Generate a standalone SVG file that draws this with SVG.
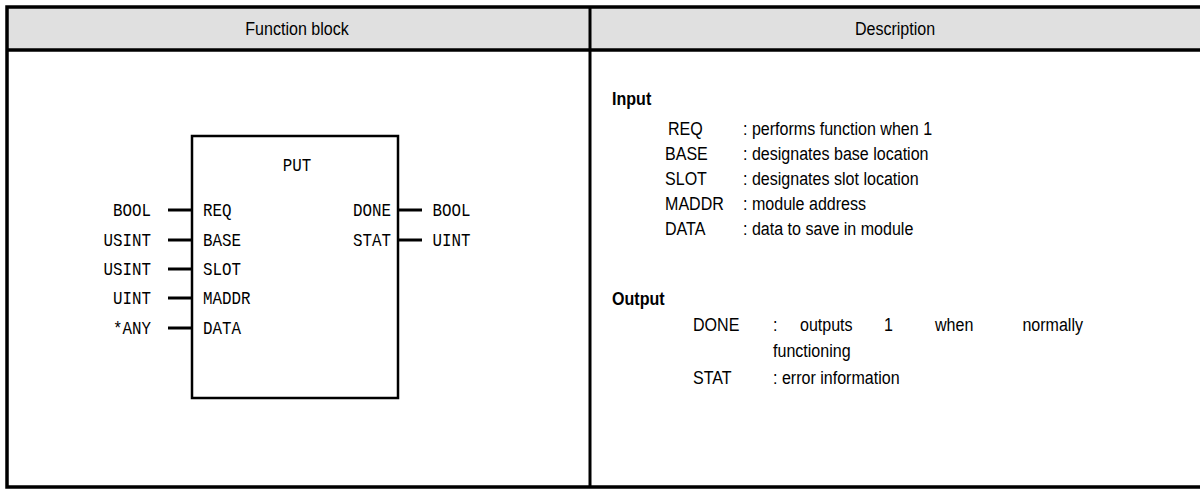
<svg xmlns="http://www.w3.org/2000/svg" width="1200" height="489" viewBox="0 0 1200 489">
<style>
.hdr{font-family:"Liberation Sans",Arial,sans-serif;font-size:19px;fill:#000}
.d{font-family:"Liberation Sans",Arial,sans-serif;font-size:19px;fill:#000}
.b{font-family:"Liberation Sans",Arial,sans-serif;font-size:19px;font-weight:bold;fill:#000}
.m{font-family:"Liberation Mono","DejaVu Sans Mono",monospace;font-size:18px;fill:#000}
.ln{stroke:#000;stroke-width:3}
</style>
<g id="table">
<rect x="7" y="7" width="1200" height="43" fill="#e0e0e0"/>
<path d="M1200,7 H7 V487 H1200" fill="none" stroke="#000" stroke-width="3.5"/>
<line x1="7" y1="50" x2="1200" y2="50" stroke="#000" stroke-width="3.5"/>
<line x1="590" y1="7" x2="590" y2="487" stroke="#000" stroke-width="3"/>
<g transform="scale(0.845,1)">
<text class="hdr" x="351.5" y="35" text-anchor="middle">Function block</text>
<text class="hdr" x="1059.2" y="35" text-anchor="middle">Description</text>
</g>
</g>
<g id="put-block">
<rect x="192" y="136" width="206" height="262" fill="none" stroke="#000" stroke-width="2.5"/>
<g transform="scale(0.88,1)">
<text class="m" x="337.5" y="171" text-anchor="middle">PUT</text>
<text class="m" x="230.7" y="216">REQ</text>
<text class="m" x="230.7" y="246">BASE</text>
<text class="m" x="230.7" y="275">SLOT</text>
<text class="m" x="230.7" y="304">MADDR</text>
<text class="m" x="230.7" y="334">DATA</text>
<text class="m" x="444.3" y="216" text-anchor="end">DONE</text>
<text class="m" x="444.3" y="246" text-anchor="end">STAT</text>
</g>
</g>
<g id="inputs" transform="scale(0.88,1)">
<text class="m" x="171.6" y="216" text-anchor="end">BOOL</text>
<text class="m" x="171.6" y="246" text-anchor="end">USINT</text>
<text class="m" x="171.6" y="275" text-anchor="end">USINT</text>
<text class="m" x="171.6" y="304" text-anchor="end">UINT</text>
<text class="m" x="171.6" y="334" text-anchor="end">*ANY</text>
</g>
<g id="outputs" transform="scale(0.88,1)">
<text class="m" x="491.5" y="216">BOOL</text>
<text class="m" x="491.5" y="246">UINT</text>
</g>
<g id="connectors">
<line class="ln" x1="168" y1="210" x2="192" y2="210"/>
<line class="ln" x1="168" y1="240" x2="192" y2="240"/>
<line class="ln" x1="168" y1="269" x2="192" y2="269"/>
<line class="ln" x1="168" y1="298" x2="192" y2="298"/>
<line class="ln" x1="168" y1="328" x2="192" y2="328"/>
<line class="ln" x1="398" y1="210" x2="422" y2="210"/>
<line class="ln" x1="398" y1="240" x2="422" y2="240"/>
</g>
<g id="description" transform="scale(0.845,1)">
<text class="b" x="724.3" y="105">Input</text>
<text class="d" x="790.5" y="135">REQ</text>
<text class="d" x="787" y="160">BASE</text>
<text class="d" x="787" y="185">SLOT</text>
<text class="d" x="787" y="210">MADDR</text>
<text class="d" x="787" y="235">DATA</text>
<text class="d" x="879.3" y="135">: performs function when 1</text>
<text class="d" x="879.3" y="160">: designates base location</text>
<text class="d" x="879.3" y="185">: designates slot location</text>
<text class="d" x="879.3" y="210">: module address</text>
<text class="d" x="879.3" y="235">: data to save in module</text>
<text class="b" x="724.3" y="305">Output</text>
<text class="d" x="820.1" y="331">DONE</text>
<text class="d" x="914.8" y="331">:</text>
<text class="d" x="946.7" y="331">outputs</text>
<text class="d" x="1046.2" y="331">1</text>
<text class="d" x="1106.5" y="331">when</text>
<text class="d" x="1281.7" y="331" text-anchor="end">normally</text>
<text class="d" x="914.8" y="357">functioning</text>
<text class="d" x="820.1" y="384">STAT</text>
<text class="d" x="914.8" y="384">: error information</text>
</g>
</svg>
